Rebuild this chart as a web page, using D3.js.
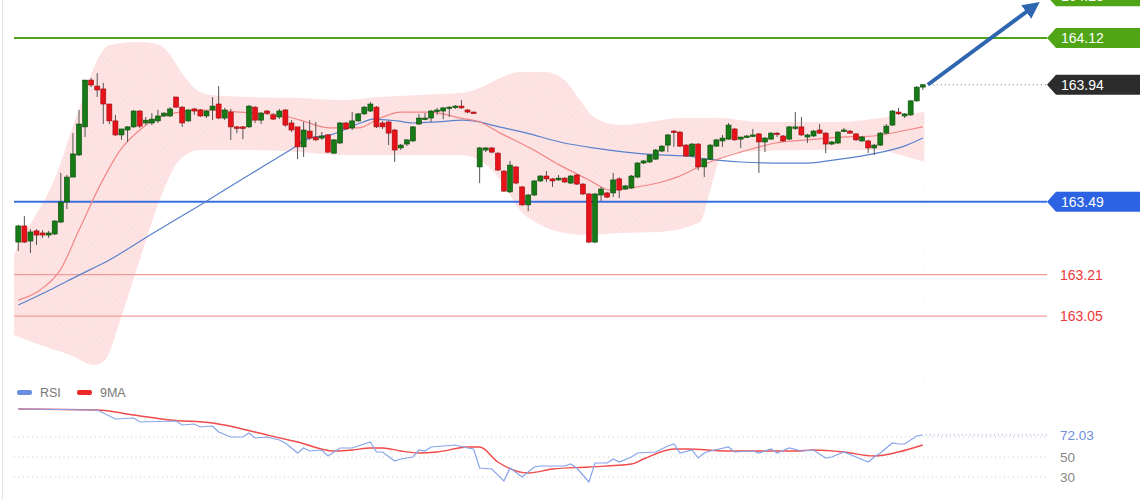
<!DOCTYPE html>
<html>
<head>
<meta charset="utf-8">
<script src="https://cdn.jsdelivr.net/npm/d3@7"></script>
<style>
  html, body { margin: 0; padding: 0; background: #fff; }
  svg { display: block; font-family: "Liberation Sans", Arial, sans-serif; }
</style>
</head>
<body>
<div id="chart"></div>
<script>
// candles, one per bar, left to right
const opens = [
  163.335,163.397,163.339,163.378,163.370,163.362,163.366,163.412,163.489,163.585,
  163.670,163.778,163.958,163.935,163.924,163.866,163.801,163.747,163.766,163.778,
  163.839,163.793,163.793,163.801,163.820,163.820,163.893,163.854,163.801,163.847,
  163.843,163.820,163.843,163.866,163.812,163.835,163.778,163.778,163.778,163.854,
  163.804,163.839,163.824,163.816,163.843,163.793,163.778,163.701,163.762,163.739,
  163.735,163.747,163.677,163.716,163.793,163.774,163.801,163.828,163.839,163.854,
  163.793,163.797,163.766,163.697,163.712,163.724,163.789,163.808,163.812,163.839,
  163.839,163.851,163.854,163.858,163.843,163.835,163.624,163.689,163.697,163.677,
  163.608,163.528,163.624,163.547,163.478,163.516,163.570,163.589,163.578,163.574,
  163.581,163.562,163.593,163.558,163.520,163.335,163.516,163.524,163.524,163.578,
  163.539,163.543,163.585,163.639,163.643,163.654,163.685,163.708,163.762,163.758,
  163.708,163.666,163.712,163.624,163.654,163.704,163.724,163.731,163.770,163.731,
  163.739,163.743,163.751,163.720,163.731,163.754,163.743,163.731,163.774,163.778,
  163.739,163.743,163.766,163.754,163.712,163.716,163.762,163.762,163.751,163.724,
  163.724,163.697,163.708,163.754,163.785,163.835,163.820,163.824,163.878,163.931
];
const highs = [
  163.401,163.435,163.385,163.385,163.381,163.378,163.420,163.601,163.593,163.754,
  163.843,163.958,163.966,163.985,163.947,163.866,163.824,163.770,163.781,163.843,
  163.843,163.816,163.831,163.843,163.835,163.854,163.893,163.858,163.847,163.851,
  163.847,163.843,163.893,163.935,163.851,163.847,163.781,163.781,163.862,163.858,
  163.835,163.843,163.831,163.847,163.847,163.804,163.778,163.797,163.804,163.797,
  163.758,163.751,163.731,163.797,163.797,163.835,163.831,163.858,163.874,163.858,
  163.801,163.801,163.770,163.712,163.731,163.781,163.828,163.831,163.843,163.851,
  163.854,163.858,163.862,163.881,163.847,163.837,163.701,163.701,163.701,163.681,
  163.612,163.647,163.627,163.551,163.520,163.574,163.593,163.608,163.581,163.593,
  163.585,163.593,163.597,163.562,163.524,163.524,163.547,163.528,163.601,163.585,
  163.555,163.593,163.643,163.651,163.674,163.693,163.708,163.751,163.766,163.762,
  163.712,163.716,163.716,163.658,163.712,163.731,163.747,163.793,163.774,163.739,
  163.747,163.770,163.754,163.739,163.758,163.758,163.747,163.781,163.835,163.816,
  163.751,163.766,163.789,163.758,163.724,163.762,163.774,163.766,163.754,163.743,
  163.728,163.712,163.758,163.789,163.843,163.851,163.831,163.881,163.935,163.943
];
const lows = [
  163.301,163.331,163.293,163.324,163.351,163.351,163.362,163.408,163.462,163.585,
  163.666,163.739,163.931,163.893,163.789,163.789,163.743,163.728,163.720,163.774,
  163.774,163.785,163.785,163.793,163.816,163.816,163.851,163.778,163.797,163.824,
  163.816,163.812,163.804,163.808,163.804,163.728,163.754,163.731,163.774,163.793,
  163.789,163.824,163.804,163.808,163.778,163.758,163.654,163.662,163.728,163.724,
  163.728,163.677,163.674,163.712,163.766,163.766,163.797,163.824,163.835,163.774,
  163.770,163.708,163.643,163.689,163.704,163.720,163.785,163.804,163.797,163.824,
  163.808,163.816,163.847,163.847,163.831,163.833,163.562,163.681,163.677,163.608,
  163.528,163.524,163.558,163.474,163.454,163.512,163.566,163.566,163.547,163.570,
  163.562,163.558,163.555,163.516,163.331,163.331,163.493,163.504,163.508,163.504,
  163.535,163.539,163.581,163.635,163.639,163.651,163.681,163.681,163.701,163.701,
  163.662,163.662,163.612,163.585,163.651,163.701,163.701,163.728,163.724,163.697,
  163.735,163.739,163.601,163.681,163.728,163.739,163.720,163.728,163.766,163.743,
  163.716,163.739,163.751,163.677,163.708,163.712,163.758,163.751,163.724,163.720,
  163.677,163.670,163.704,163.751,163.781,163.824,163.812,163.820,163.874,163.920
];
const closes = [
  163.397,163.335,163.374,163.362,163.362,163.370,163.416,163.489,163.585,163.674,
  163.789,163.958,163.939,163.920,163.866,163.801,163.747,163.770,163.778,163.839,
  163.781,163.804,163.808,163.820,163.831,163.847,163.854,163.793,163.843,163.839,
  163.820,163.839,163.858,163.812,163.843,163.778,163.774,163.774,163.858,163.804,
  163.831,163.831,163.808,163.839,163.785,163.766,163.701,163.766,163.735,163.728,
  163.743,163.681,163.728,163.793,163.770,163.801,163.828,163.854,163.866,163.778,
  163.778,163.754,163.689,163.708,163.728,163.778,163.812,163.812,163.839,163.843,
  163.851,163.854,163.858,163.851,163.835,163.834,163.697,163.697,163.681,163.612,
  163.531,163.631,163.562,163.478,163.516,163.570,163.589,163.578,163.570,163.581,
  163.566,163.589,163.558,163.520,163.335,163.520,163.539,163.508,163.574,163.535,
  163.551,163.589,163.639,163.647,163.670,163.689,163.704,163.747,163.758,163.704,
  163.666,163.712,163.624,163.654,163.708,163.728,163.735,163.785,163.728,163.739,
  163.743,163.747,163.720,163.735,163.754,163.751,163.724,163.778,163.778,163.747,
  163.747,163.762,163.754,163.712,163.720,163.758,163.766,163.754,163.728,163.739,
  163.697,163.708,163.754,163.781,163.839,163.828,163.828,163.878,163.931,163.940
];

// bollinger band, read at bar positions
const bandIdx   = [-0.7, -0.2, 2.4, 6.4, 8.5, 10.7, 13, 15.1, 20, 23.3, 25, 26.6, 29, 31.6, 38, 46.4, 53, 59.6, 66, 72.8, 76, 79.4, 82.6, 86.8, 90, 92.5, 95, 99, 104, 109, 115.6, 122, 128.8, 135.4, 142, 149.3];
const bandUpper = [163.285,163.316,163.420,163.601,163.747,163.893,164.035,164.093,164.104,164.093,164.054,163.997,163.928,163.901,163.893,163.889,163.881,163.893,163.901,163.908,163.928,163.966,163.989,163.989,163.958,163.881,163.812,163.785,163.797,163.812,163.812,163.797,163.797,163.797,163.812,163.835];
const lowerIdx  = [-0.7, 3.6, 8.5, 12.6, 14.3, 16.8, 20, 23.3, 26.6, 30, 38, 46.4, 53, 63, 72.8, 76, 79.4, 82.6, 86, 89.2, 94, 99, 105.7, 112.3, 114, 115.6, 119, 128.8, 137, 142, 145.3, 149.3];
const bandLower = [162.978,162.939,162.901,162.862,162.881,163.035,163.266,163.497,163.651,163.689,163.689,163.681,163.670,163.670,163.670,163.651,163.574,163.458,163.401,163.374,163.362,163.370,163.374,163.412,163.535,163.651,163.681,163.689,163.689,163.689,163.670,163.643];

// moving averages on price
const redMaIdx = [0, 3.6, 6.9, 10, 13.5, 16.8, 20, 23.3, 26.6, 30, 36.5, 43, 46.4, 51.4, 56, 59.6, 63, 68, 72.8, 76, 79.4, 84.3, 89.2, 94, 97.5, 100.8, 106, 108.5, 113.5, 119, 124.7, 130, 135.4, 140.8, 146.4, 149];
const redMa    = [163.112,163.151,163.227,163.381,163.555,163.689,163.766,163.816,163.835,163.843,163.835,163.824,163.804,163.774,163.774,163.812,163.835,163.835,163.812,163.797,163.754,163.697,163.631,163.574,163.535,163.543,163.566,163.585,163.639,163.681,163.716,163.728,163.739,163.743,163.766,163.778];
const blueMaIdx = [0, 5.2, 10, 15, 21.7, 30, 38, 44.8, 48, 51.4, 56.8, 58.4, 62.4, 65, 69, 73.3, 76, 78, 83.8, 89.2, 94.7, 100, 105.7, 110, 113.5, 119, 124.7, 130, 135.4, 140.8, 146.4, 149];
const blueMa    = [163.093,163.151,163.208,163.266,163.362,163.478,163.593,163.689,163.735,163.747,163.797,163.808,163.801,163.793,163.797,163.804,163.797,163.785,163.754,163.720,163.697,163.681,163.670,163.666,163.654,163.643,163.639,163.639,163.654,163.674,163.708,163.735];

// horizontal levels
const levelValues = [164.28, 164.12, 163.49, 163.21, 163.05];
const levelKinds  = ["target", "target", "support", "minor", "minor"];
const lastPrice = 163.94;

// RSI panel
const rsiIdx = [0,13,16,19,20,26,27,29,30,32,33,35,37,38,39,41,43,44,46,47,48,50,51,53,55,58,59,60,62,63,65,66,67,68,72,74,75,76,78,80,81,83,85,86,90,91,92,94,95,96,97,98,99,101,102,105,107,108,109,111,112,113,114,117,118,121,122,124,125,127,129,131,133,134,136,138,140,141,142,144,145,146,148,149];
const rsiVal = [98,97,88,89,85,86,82,83,80,81,75,70,70,74,69,70,67,64,54,59,56,57,51,59,59,65,55,55,46,48,50,57,56,60,62,59,58,39,38,26,39,30,40,41,41,43,39,25,44,44,44,48,45,50,54,55,61,63,54,57,49,54,56,60,55,56,54,58,54,59,56,57,49,50,55,50,45,50,54,64,63,63,71,72.03];
const rsiMaIdx = [0,13,19,25,32,41,46,52,55,58,60,63,66,69,74,76,79,84,88,94,101,103,108,110,117,128,131,136,141,145,149];
const rsiMaVal = [98,97,92,87,84,72,65,56,57,59,59,56,54,55,60,60,45,34,38,40,43,48,58,58,56,56,57,55,51,55,62];
const rsiGrid = [70, 50, 30];
const rsiTicks = [50, 30];
const rsiLast = 72.03;
const legendNames = ["RSI", "9MA"];

const width = 1140, height = 500;
const svg = d3.select("#chart").append("svg")
  .attr("width", width)
  .attr("height", height);

const x = d3.scaleLinear().domain([0, opens.length - 1]).range([18.3, 922.8]);
const y = d3.scaleLinear().domain([162.843, 164.266]).range([370, 0]);
const yr = d3.scaleLinear().domain([0, 100]).range([507, 407]);

const lineRight = 1047;
const boxLeft = 1047;

// dotted texture for the band
const defs = svg.append("defs");
const pat = defs.append("pattern")
  .attr("id", "dots")
  .attr("width", 4).attr("height", 4)
  .attr("patternUnits", "userSpaceOnUse")
  .attr("patternTransform", "rotate(35)");
pat.append("rect").attr("width", 4).attr("height", 4).attr("fill", "#fde1e1");
pat.append("circle").attr("cx", 1).attr("cy", 1).attr("r", 0.6).attr("fill", "#fff").attr("opacity", 0.9);

// faint left frame line
svg.append("line")
  .attr("x1", 2.5).attr("x2", 2.5).attr("y1", 0).attr("y2", height)
  .attr("stroke", "#e4e4e4");

// band: fill under the upper edge, masked out under the lower edge
const upperPts = bandIdx.map((d, i) => [x(d), y(bandUpper[i])]);
const lowerPts = lowerIdx.map((d, i) => [x(d), y(bandLower[i])]);
const edge = d3.line().curve(d3.curveMonotoneX);
const mask = defs.append("mask").attr("id", "bandMask");
mask.append("path")
  .attr("d", edge(upperPts) + `L${upperPts[upperPts.length - 1][0]},400L${upperPts[0][0]},400Z`)
  .attr("fill", "#fff");
mask.append("path")
  .attr("d", edge(lowerPts) + `L${lowerPts[lowerPts.length - 1][0]},400L${lowerPts[0][0]},400Z`)
  .attr("fill", "#000");
svg.append("rect")
  .attr("x", upperPts[0][0]).attr("y", 0)
  .attr("width", upperPts[upperPts.length - 1][0] - upperPts[0][0]).attr("height", 400)
  .attr("fill", "url(#dots)")
  .attr("mask", "url(#bandMask)");

// level lines
const levelColor = { target: "#4fa516", support: "#3a6fdf", minor: "#f29b9b" };
levelValues.forEach((v, i) => {
  const k = levelKinds[i];
  svg.append("line")
    .attr("x1", 14).attr("x2", lineRight)
    .attr("y1", y(v)).attr("y2", y(v))
    .attr("stroke", levelColor[k])
    .attr("stroke-width", k === "minor" ? 1.3 : 2);
});

// moving averages
const maLine = d3.line().curve(d3.curveMonotoneX).x(d => x(d[0])).y(d => y(d[1]));
svg.append("path")
  .attr("d", maLine(blueMaIdx.map((d, i) => [d, blueMa[i]])))
  .attr("fill", "none").attr("stroke", "#5a82cc").attr("stroke-width", 1.2);
svg.append("path")
  .attr("d", maLine(redMaIdx.map((d, i) => [d, redMa[i]])))
  .attr("fill", "none").attr("stroke", "#f28686").attr("stroke-width", 1.2);

// candles
const candles = svg.append("g");
const bars = opens.map((o, i) => ({ i, o, h: highs[i], l: lows[i], c: closes[i] }));
candles.selectAll(".wick").data(bars).join("line")
  .attr("class", "wick")
  .attr("x1", d => x(d.i)).attr("x2", d => x(d.i))
  .attr("y1", d => y(d.h)).attr("y2", d => y(d.l))
  .attr("stroke", "#555").attr("stroke-width", 1);
candles.selectAll(".body").data(bars).join("rect")
  .attr("class", "body")
  .attr("x", d => x(d.i) - 2.5)
  .attr("width", 5)
  .attr("y", d => y(Math.max(d.o, d.c)))
  .attr("height", d => Math.max(1.5, Math.abs(y(d.o) - y(d.c))))
  .attr("fill", d => d.c >= d.o ? "#167a16" : "#e8121a")
  .attr("stroke", d => d.c >= d.o ? "#0c4a0c" : "#9a1010")
  .attr("stroke-width", 0.6);

// last price dotted line and arrow
const lastX = x(opens.length - 1);
svg.append("line")
  .attr("x1", lastX + 10).attr("x2", lineRight)
  .attr("y1", y(lastPrice)).attr("y2", y(lastPrice))
  .attr("stroke", "#777").attr("stroke-width", 1).attr("stroke-dasharray", "1,3");

defs.append("marker")
  .attr("id", "head")
  .attr("viewBox", "0 0 10 10")
  .attr("refX", 5).attr("refY", 5)
  .attr("markerWidth", 4.2).attr("markerHeight", 4.2)
  .attr("orient", "auto")
  .append("path").attr("d", "M0,0L10,5L0,10Z").attr("fill", "#2f66b0");
svg.append("line")
  .attr("x1", lastX + 5).attr("y1", y(lastPrice))
  .attr("x2", 1033).attr("y2", 7)
  .attr("stroke", "#2f66b0").attr("stroke-width", 4)
  .attr("marker-end", "url(#head)");

// price labels at the right
function tagBox(v, fill, label) {
  const cy = y(v), hh = 10;
  svg.append("path")
    .attr("d", `M${boxLeft},${cy}L${boxLeft + 9},${cy - hh}L${width},${cy - hh}L${width},${cy + hh}L${boxLeft + 9},${cy + hh}Z`)
    .attr("fill", fill);
  svg.append("text")
    .attr("x", 1061).attr("y", cy + 5)
    .attr("fill", "#fff").attr("font-size", 14)
    .text(label);
}
levelValues.forEach((v, i) => {
  const k = levelKinds[i];
  if (k === "target") tagBox(v, "#4fa516", v.toFixed(2));
  else if (k === "support") tagBox(v, "#2b63e3", v.toFixed(2));
  else {
    svg.append("text")
      .attr("x", 1060).attr("y", y(v) + 5)
      .attr("fill", "#ee3838").attr("font-size", 14)
      .text(v.toFixed(2));
  }
});
tagBox(lastPrice, "#2c2c2c", lastPrice.toFixed(2));

// RSI panel
const legend = svg.append("g");
const legendColors = ["#6a8fe0", "#ee2b2b"];
const legendX = [17, 77];
legendNames.forEach((n, i) => {
  legend.append("rect")
    .attr("x", legendX[i]).attr("y", 390).attr("width", 15).attr("height", 5).attr("rx", 2)
    .attr("fill", legendColors[i]);
  legend.append("text")
    .attr("x", legendX[i] + 23).attr("y", 397)
    .attr("fill", "#777").attr("font-size", 12.5)
    .text(n);
});

rsiGrid.forEach(v => {
  svg.append("line")
    .attr("x1", 14).attr("x2", lineRight)
    .attr("y1", yr(v)).attr("y2", yr(v))
    .attr("stroke", "#c8c8c8").attr("stroke-width", 1).attr("stroke-dasharray", "1,3.5");
});
rsiTicks.forEach(v => {
  svg.append("text")
    .attr("x", 1060).attr("y", yr(v) + 5)
    .attr("fill", "#888").attr("font-size", 13.5)
    .text(v);
});

svg.append("path")
  .attr("d", d3.line().curve(d3.curveMonotoneX).x(d => x(d[0])).y(d => yr(d[1]))(rsiMaIdx.map((d, i) => [d, rsiMaVal[i]])))
  .attr("fill", "none").attr("stroke", "#f04a4a").attr("stroke-width", 1.4);
svg.append("path")
  .attr("d", d3.line().x(d => x(d[0])).y(d => yr(d[1]))(rsiIdx.map((d, i) => [d, rsiVal[i]])))
  .attr("fill", "none").attr("stroke", "#86a4ea").attr("stroke-width", 1.2);

svg.append("line")
  .attr("x1", lastX + 3).attr("x2", lineRight)
  .attr("y1", yr(rsiLast)).attr("y2", yr(rsiLast))
  .attr("stroke", "#7f9fe6").attr("stroke-width", 1).attr("stroke-dasharray", "1,3");
svg.append("text")
  .attr("x", 1060).attr("y", yr(rsiLast) + 5)
  .attr("fill", "#6d8fe0").attr("font-size", 13.5)
  .text(rsiLast.toFixed(2));
</script>
</body>
</html>
